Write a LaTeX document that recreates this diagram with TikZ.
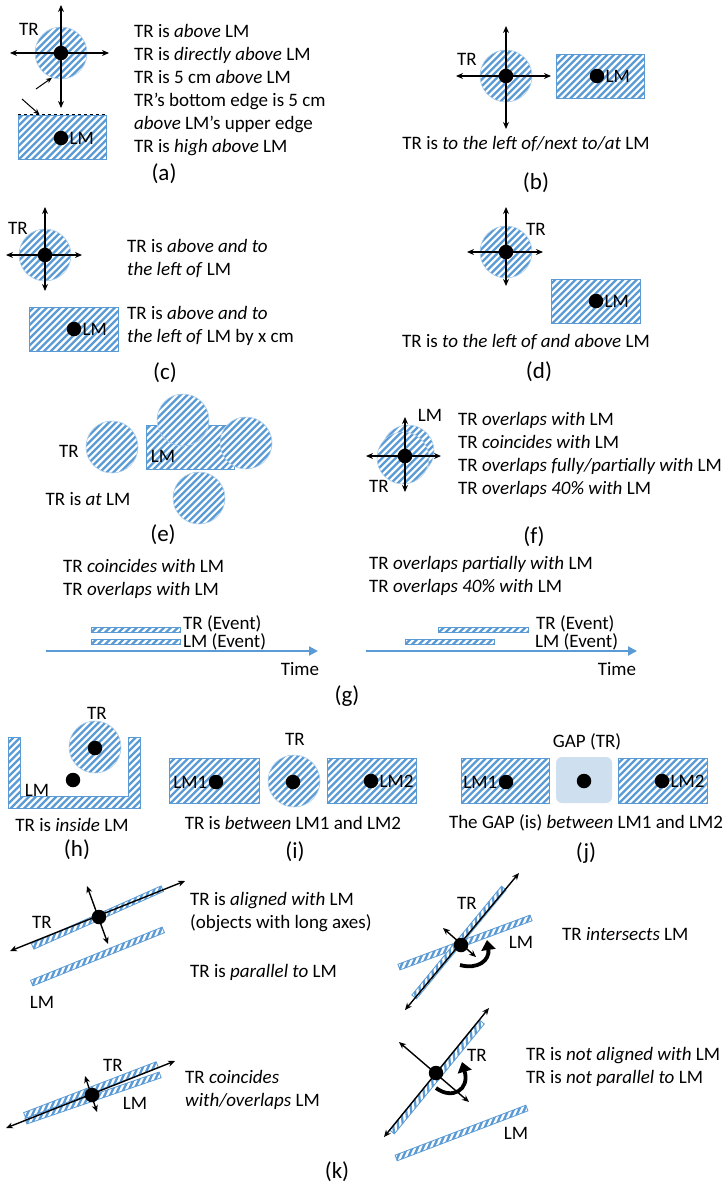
\documentclass[tikz,border=0pt]{standalone}
\usepackage{fontspec}
\setmainfont{Carlito}
\usetikzlibrary{arrows.meta,positioning}
\definecolor{hatchblue}{RGB}{91,155,213}
\definecolor{gapblue}{RGB}{206,223,240}
\tikzset{
  every node/.append style={font=\fontsize{19pt}{23pt}\selectfont},
  hatched/.style={fill=white,path picture={
    \foreach \s in {-150,-143.2,...,150}
      \draw[hatchblue,line width=2.3pt] (path picture bounding box.center) ++(\s-100,100) -- ++(200,-200);}},
  lmbox/.style={hatched,draw=hatchblue,line width=0.9pt,inner sep=0pt,minimum width=88pt,minimum height=44pt},
  trdisc/.style={circle,hatched,draw=hatchblue!50,line width=0.6pt,inner sep=0pt,minimum size=52pt},
  bar/.style={hatched,draw=hatchblue,line width=0.8pt,inner sep=0pt,minimum height=6pt,minimum width=142pt},
  evbar/.style={hatched,draw=hatchblue,line width=0.8pt},
  dot/.style={circle,fill=black,inner sep=0pt,minimum size=14.5pt},
  axis/.style={{Stealth[length=7pt,width=6pt]}-{Stealth[length=7pt,width=6pt]},line width=1.4pt},
  pointer/.style={-{Stealth[length=6pt,width=5pt]},line width=1pt},
  turn/.style={-{Triangle[length=10pt,width=14pt]},line width=3.8pt},
  timeaxis/.style={-{Triangle[length=9pt,width=9pt]},draw=hatchblue,line width=2pt},
  lbl/.style={inner sep=0pt},
  txt/.style={align=left,anchor=west,inner sep=0pt},
  capt/.style={font=\fontsize{23pt}{27pt}\selectfont},
}
\begin{document}
\begin{tikzpicture}[x=1pt,y=-1pt]
\fill[white] (0,0) rectangle (728,1186);
\useasboundingbox (0,0) rectangle (728,1186);

% (a)
\node[trdisc] (tra) at (61,53) {};
\node[lmbox] (lma) at (62,137) {};
\draw[dashed,line width=0.9pt] (lma.north west) -- (lma.north east);
\draw[axis] (61,5) -- (61,108);
\draw[axis] (10,53) -- (109,53);
\node[dot] (tda) at (61,53) {};
\node[dot] (lda) at (61,138) {};
\node[lbl] (trla) at (29,29) {TR};
\node[lbl,right=1pt of lda] (lmla) {LM};
\draw[pointer] (36,89) -- (tra.250);
\draw[pointer] (22,99) -- ([xshift=22pt]lma.north west);
\node[txt] (texta) at (134,90.5) {TR is \textit{above} LM\\
  TR is \textit{directly above} LM\\
  TR is 5 cm \textit{above} LM\\
  TR's bottom edge is 5 cm\\
  \textit{above} LM's upper edge\\
  TR is \textit{high above} LM};
\node[capt] (capa) at (164,174) {(a)};

% (b)
\node[trdisc] (trb) at (506,76) {};
\node[lmbox] (lmb) at (600,76) {};
\draw[axis] (506,26) -- (506,129);
\draw[axis] (456,76) -- (551,76);
\node[dot] (tdb) at (506,76) {};
\node[dot] (ldb) at (597,76) {};
\node[lbl] (trlb) at (467,59) {TR};
\node[lbl,right=1pt of ldb] (lmlb) {LM};
\node (textb) at (526,144) {TR is \textit{to the left of/next to/at} LM};
\node[capt] (capb) at (536,183) {(b)};

% (c)
\node[trdisc] (trc) at (45,255) {};
\node[lmbox,minimum width=89pt] (lmc) at (73.5,329) {};
\draw[axis] (45,207) -- (45,291);
\draw[axis] (6,255) -- (82,255);
\node[dot] (tdc) at (45,255) {};
\node[dot] (ldc) at (74,329) {};
\node[lbl] (trlc) at (18,228) {TR};
\node[lbl,right=1pt of ldc] (lmlc) {LM};
\node[txt] (textc1) at (127,258.5) {TR is \textit{above and to}\\\textit{the left of} LM};
\node[txt] (textc2) at (127,325.5) {TR is \textit{above and to}\\\textit{the left of} LM by x cm};
\node[capt] (capc) at (165,373) {(c)};

% (d)
\node[trdisc] (trd) at (506,252) {};
\node[lmbox,minimum width=89pt] (lmd) at (595.5,301) {};
\draw[axis] (506,207) -- (506,286);
\draw[axis] (467,252) -- (543,252);
\node[dot] (tdd) at (506,252) {};
\node[dot] (ldd) at (596,301) {};
\node[lbl] (trld) at (536,229) {TR};
\node[lbl,right=1pt of ldd] (lmld) {LM};
\node (textd) at (526,342) {TR is \textit{to the left of and above} LM};
\node[capt] (capd) at (539,372) {(d)};

% (e)
\node[lmbox] (lme) at (190,447) {};
\foreach \n/\p in {1/{(112,447)},2/{(183,420)},3/{(246,443)},4/{(199,498)}}
  \node[trdisc] (tre\n) at \p {};
\node[lbl] (trle) at (69,451) {TR};
\node[lbl] (lmle) at (163,456) {LM};
\node (texte) at (88,499) {TR is \textit{at} LM};
\node[capt] (cape) at (163,535) {(e)};

% (f)
\node[trdisc] (lmf) at (408,451) {};
\node[trdisc] (trf) at (403,458) {};
\draw[axis] (405,417) -- (405,492);
\draw[axis] (366,456) -- (441,456);
\node[dot] (df) at (405,456) {};
\node[lbl] (lmlf) at (430,415) {LM};
\node[lbl] (trlf) at (379,486) {TR};
\node[txt] (textf) at (458,455) {TR \textit{overlaps with} LM\\
  TR \textit{coincides with} LM\\
  TR \textit{overlaps fully/partially with} LM\\
  TR \textit{overlaps 40\% with} LM};
\node[capt] (capf) at (534,537) {(f)};

% (g)
\node[txt] (textg1) at (63,579) {TR \textit{coincides with} LM\\TR \textit{overlaps with} LM};
\draw[evbar] (91,627) rectangle (180,632);
\draw[evbar] (91,639) rectangle (180,644);
\node[lbl,anchor=west] (trg1) at (183,624) {TR (Event)};
\node[lbl,anchor=west] (lmg1) at (183,642) {LM (Event)};
\coordinate (t1s) at (46,651);
\coordinate (t1e) at (318,651);
\draw[timeaxis] (t1s) -- (t1e);
\node (time1) at (300,669) {Time};
\node[txt] (textg2) at (369,576) {TR \textit{overlaps partially with} LM\\TR \textit{overlaps 40\% with} LM};
\draw[evbar] (438,627) rectangle (528,632);
\draw[evbar] (405,639) rectangle (494,644);
\node[lbl,anchor=west] (trg2) at (536,624) {TR (Event)};
\node[lbl,anchor=west] (lmg2) at (535,642) {LM (Event)};
\coordinate (t2s) at (366,651);
\coordinate (t2e) at (637,651);
\draw[timeaxis] (t2s) -- (t2e);
\node (time2) at (617,669) {Time};
\node[capt] (capg) at (347,696) {(g)};

% (h)
\draw[hatched,draw=hatchblue,line width=0.9pt] (8,737) -- (8,808) -- (140,808) -- (140,737)
  -- (128,737) -- (128,796) -- (20,796) -- (20,737) -- cycle;
\node[trdisc] (trh) at (95,747) {};
\node[dot] (tdh) at (95,748) {};
\node[dot] (ldh) at (73,780) {};
\node[lbl] (trlh) at (97,713) {TR};
\node[lbl] (lmlh) at (37,790) {LM};
\node (texth) at (72,825) {TR is \textit{inside} LM};
\node[capt] (caph) at (77,850) {(h)};

% (i)
\node[lmbox,minimum width=90pt,minimum height=45pt] (lm1i) at (214,780.5) {};
\node[lmbox,minimum width=89pt,minimum height=45pt] (lm2i) at (371.5,780.5) {};
\node[trdisc] (tri) at (294,781) {};
\node[dot] (d1i) at (216,782) {};
\node[dot] (dti) at (293,782) {};
\node[dot] (d2i) at (371,781) {};
\node[lbl,left=1pt of d1i] (lml1i) {LM1};
\node[lbl,right=1pt of d2i] (lml2i) {LM2};
\node[lbl] (trli) at (295,739) {TR};
\node (texti) at (293,823) {TR is \textit{between} LM1 and LM2};
\node[capt] (capi) at (295,852) {(i)};

% (j)
\node[lmbox,minimum height=45pt] (lm1j) at (505,780.5) {};
\node[lmbox,minimum width=89pt,minimum height=45pt] (lm2j) at (662.5,780.5) {};
\node[fill=gapblue,rounded corners=6pt,inner sep=0pt,minimum width=56pt,minimum height=46pt] (gapj) at (584,780) {};
\node[dot] (d1j) at (506,782) {};
\node[dot] (dgj) at (584,781) {};
\node[dot] (d2j) at (662,781) {};
\node[lbl,left=1pt of d1j] (lml1j) {LM1};
\node[lbl,right=1pt of d2j] (lml2j) {LM2};
\node[lbl] (gaplj) at (587,742) {GAP (TR)};
\node (textj) at (586,823) {The GAP (is) \textit{between} LM1 and LM2};
\node[capt] (capj) at (586,853) {(j)};

% (k) aligned / parallel
\node[bar,rotate=24] (trk1) at (97.5,917.5) {};
\node[bar,rotate=22] (lmk1) at (97.5,956.5) {};
\draw[axis] (10,951) -- (185,881);
\draw[axis] (87,886) -- (108,944);
\node[dot] (dk1) at (99,917) {};
\node[lbl] (trlk1) at (42,922) {TR};
\node[lbl] (lmlk1) at (42,1002) {LM};
\node[txt] (textk1) at (190,912) {TR is \textit{aligned with} LM\\(objects with long axes)};
\node[txt] (textk2) at (190,972) {TR is \textit{parallel to} LM};

% (k) intersects
\node[bar,rotate=20.4,minimum width=141pt] (lmk2) at (465,942.5) {};
\node[bar,rotate=50.5,minimum width=141pt] (trk2) at (459,942.5) {};
\draw[axis] (405,1010) -- (519,873);
\draw[axis] (443,928) -- (476,957);
\node[dot] (dk2) at (461,945) {};
\draw[turn] (460,965) .. controls (478,970) and (490,960) .. (487,940);
\node[lbl] (trlk2) at (467,903) {TR};
\node[lbl] (lmlk2) at (521,942) {LM};
\node[txt] (textk3) at (562,934) {TR \textit{intersects} LM};

% (k) coincides
\node[bar,rotate=19] (lmk3) at (93,1098) {};
\node[bar,rotate=21] (trk3) at (91,1090) {};
\draw[axis] (6,1128) -- (175,1061);
\draw[axis] (85,1076) -- (97,1112);
\node[dot] (dk3) at (92,1095) {};
\node[lbl] (trlk3) at (113,1065) {TR};
\node[lbl] (lmlk3) at (135,1103) {LM};
\node[txt] (textk4) at (185,1090) {TR \textit{coincides}\\\textit{with/overlaps} LM};

% (k) not aligned
\node[bar,rotate=50.7] (trk4) at (437,1077) {};
\node[bar,rotate=20.9,minimum width=140pt] (lmk4) at (461.5,1133) {};
\draw[axis] (384,1137) -- (489,1008);
\draw[axis] (399,1042) -- (469,1102);
\node[dot] (dk4) at (436,1073) {};
\draw[turn] (436,1088) .. controls (452,1100) and (470,1090) .. (462,1062);
\node[lbl] (trlk4) at (477,1055) {TR};
\node[lbl] (lmlk4) at (516,1133) {LM};
\node[txt] (textk5) at (526,1067) {TR is \textit{not aligned with} LM\\TR is \textit{not parallel to} LM};
\node[capt] (capk) at (337,1172) {(k)};
\end{tikzpicture}
\end{document}
